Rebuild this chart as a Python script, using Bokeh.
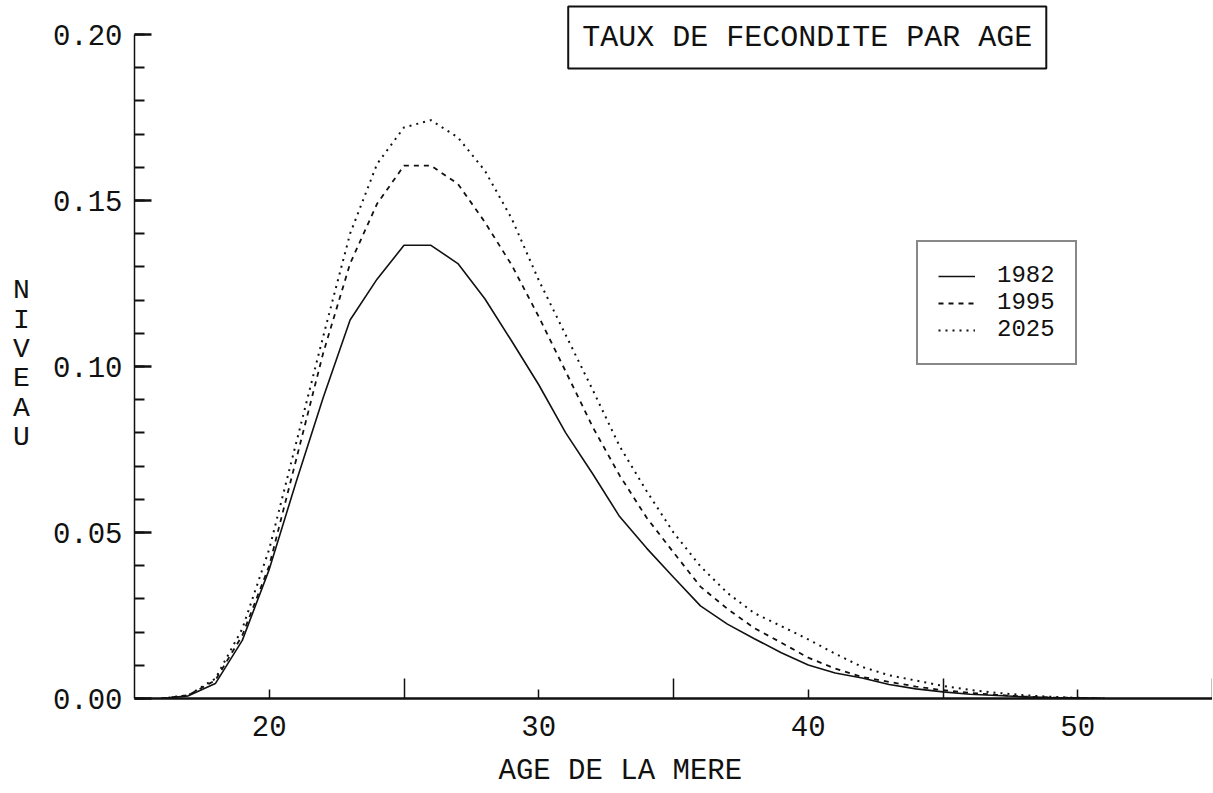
from bokeh.plotting import figure
from bokeh.models import (Range1d, FixedTicker, SingleIntervalTicker, PrintfTickFormatter,
                          Legend, LegendItem, Title, Label)
from bokeh.embed import file_html
from bokeh.resources import INLINE

# ---- data ----
ages = [16, 17, 18, 19, 20, 21, 22, 23, 24, 25, 26, 27, 28, 29, 30, 31, 32, 33,
        34, 35, 36, 37, 38, 39, 40, 41, 42, 43, 44, 45, 46, 47, 48, 49, 50, 51]
rate_1982 = [0.0, 0.0008, 0.0045, 0.0175, 0.0389, 0.0653, 0.0906, 0.114, 0.1263,
             0.1365, 0.1365, 0.131, 0.1204, 0.1076, 0.0945, 0.080, 0.0677, 0.0548,
             0.0453, 0.0365, 0.0279, 0.0224, 0.018, 0.0138, 0.0101, 0.0077, 0.0062,
             0.0042, 0.0029, 0.002, 0.0013, 0.0009, 0.0005, 0.0003, 0.0002, 0.0]
rate_1995 = [0.0, 0.001, 0.0055, 0.019, 0.040, 0.072, 0.104, 0.131, 0.149,
             0.1605, 0.1605, 0.155, 0.1435, 0.1305, 0.115, 0.0985, 0.0818, 0.0672,
             0.0545, 0.044, 0.0337, 0.027, 0.0212, 0.0168, 0.0123, 0.009, 0.0065,
             0.005, 0.0036, 0.0025, 0.0017, 0.0011, 0.0006, 0.0003, 0.0002, 0.0]
rate_2025 = [0.0, 0.001, 0.006, 0.021, 0.045, 0.077, 0.109, 0.140, 0.161,
             0.172, 0.1742, 0.169, 0.159, 0.1445, 0.126, 0.1095, 0.093, 0.076,
             0.0625, 0.050, 0.0398, 0.0318, 0.0257, 0.0218, 0.0178, 0.0135, 0.0095,
             0.007, 0.0054, 0.0038, 0.0026, 0.0017, 0.001, 0.0005, 0.0002, 0.0]
series_labels = ["1982", "1995", "2025"]
x_major = [20, 30, 40, 50]
x_minor = [25, 35, 45, 55]
title_text = "TAUX DE FECONDITE PAR AGE"
x_label = "AGE DE LA MERE"
y_label = "NIVEAU"

FONT = "Liberation Mono"
INK = "#111111"

# frame spans from the canvas top so the boxed title can sit over the axis top
PX_PER_UNIT = 664 / 0.2
y_top = 0.2 + 34 / PX_PER_UNIT

p = figure(frame_width=1078, frame_height=698, output_backend="svg", toolbar_location=None,
           x_range=Range1d(15, 55), y_range=Range1d(0, y_top),
           min_border_left=134, min_border_right=0, min_border_top=0, min_border_bottom=95)
p.title.visible = False
p.outline_line_color = None
p.xgrid.visible = False
p.ygrid.visible = False
p.background_fill_color = "white"
p.border_fill_color = "white"

# axes
xa = p.xaxis[0]
xa.ticker = FixedTicker(ticks=x_major, minor_ticks=x_minor)
xa.major_tick_in = 9
xa.major_tick_out = 0
xa.minor_tick_in = 20
xa.minor_tick_out = 0
xa.axis_line_width = 2.5
xa.axis_line_color = INK
xa.major_tick_line_color = INK
xa.minor_tick_line_color = INK
xa.major_tick_line_width = 1.5
xa.minor_tick_line_width = 1.5
xa.major_label_standoff = 17
xa.major_label_text_font = FONT
xa.major_label_text_font_size = "29px"
xa.major_label_text_color = INK

ya = p.yaxis[0]
ya.bounds = (0, 0.2)
ya.ticker = SingleIntervalTicker(interval=0.05, num_minor_ticks=5)
ya.formatter = PrintfTickFormatter(format="%.2f")
ya.major_tick_in = 17
ya.major_tick_out = 0
ya.minor_tick_in = 10
ya.minor_tick_out = 0
ya.axis_line_width = 1.5
ya.axis_line_color = INK
ya.major_tick_line_color = INK
ya.minor_tick_line_color = INK
ya.major_tick_line_width = 2.5
ya.minor_tick_line_width = 2
ya.major_label_standoff = 12
ya.major_label_text_font = FONT
ya.major_label_text_font_size = "29px"
ya.major_label_text_color = INK
ya.axis_label = "\n" + "\n".join(y_label)
ya.axis_label_orientation = "horizontal"
ya.axis_label_standoff = 20
ya.axis_label_text_font = FONT
ya.axis_label_text_font_size = "28px"
ya.axis_label_text_font_style = "normal"
ya.axis_label_text_color = INK
ya.axis_label_text_line_height = 0.95

# curves
r1 = p.line(ages, rate_1982, line_color=INK, line_width=1.6)
r2 = p.line(ages, rate_1995, line_color=INK, line_width=1.8, line_dash="5 5")
r3 = p.line(ages, rate_2025, line_color=INK, line_width=2, line_dash="2 5")

legend = Legend(items=[LegendItem(label=series_labels[0], renderers=[r1]),
                       LegendItem(label=series_labels[1], renderers=[r2]),
                       LegendItem(label=series_labels[2], renderers=[r3])],
                location=(782, 333), orientation="vertical",
                label_text_font=FONT, label_text_font_size="24px", label_text_color=INK,
                glyph_width=37, glyph_height=20, label_standoff=22, padding=20, spacing=0,
                label_height=22, margin=0,
                border_line_color=INK, border_line_width=2, background_fill_alpha=1.0)
p.add_layout(legend)

# boxed title (centre read at pixel x~808, y~37)
title_x = 15 + (808 - 134) / 27.0
title_y = 0.2 - 3 / PX_PER_UNIT
p.add_layout(Label(x=title_x, y=title_y, text=title_text, text_font=FONT,
                   text_font_size="30px", text_color=INK,
                   text_align="center", text_baseline="middle",
                   border_line_color=INK, border_line_width=2,
                   background_fill_color="white", padding=14))

bottom_title = Title(text=x_label, align="left", offset=364, standoff=29,
                     text_font=FONT, text_font_size="29px", text_font_style="normal",
                     text_color=INK)
p.add_layout(bottom_title, "below")

open("out.html", "w").write(file_html(p, INLINE))
